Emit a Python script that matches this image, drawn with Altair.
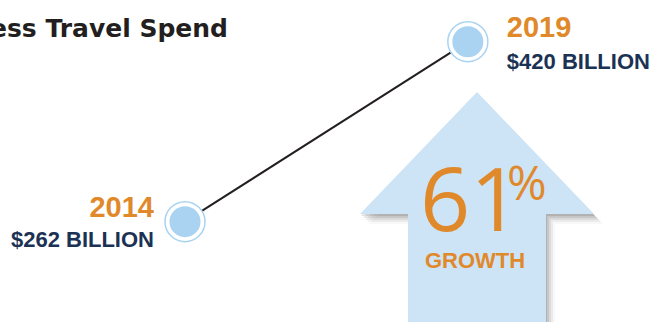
import altair as alt
import pandas as pd

# ---- data ----
years = [2014, 2019]
spend = [262, 420]
year_labels = ["2014", "2019"]
value_labels = ["$262 BILLION", "$420 BILLION"]
title_text = ["Business Travel Spend"]
growth_pct = ["61"]
growth_word = ["GROWTH"]

ORANGE = "#e0892a"
NAVY = "#1b3254"
DARK = "#231f20"
BLUE = "#a9d3f1"
ARROW = "#cde3f6"

df = pd.DataFrame({"year": years, "spend": spend,
                   "ylab": year_labels, "vlab": value_labels})
one = pd.DataFrame({"t": title_text, "p": growth_pct, "w": growth_word})

W, H = 650, 322
xs = alt.Scale(domain=[2010.73, 2022.22], nice=False, zero=False)
ys = alt.Scale(domain=[173.9, 456.6], nice=False, zero=False)
X = alt.X("year:Q", scale=xs, axis=None)
Y = alt.Y("spend:Q", scale=ys, axis=None)

arrow_path = "M0,0 L117,122 L69,122 L69,260 L-69,260 L-69,122 L-117,122 Z"
TIPX, TIPY = 477, 92

base1 = alt.Chart(one)

shadows = []
for (ox, oy, op) in [(1, 2, 0.15), (3, 4, 0.12), (5, 6, 0.10), (7, 8, 0.07), (9, 10, 0.04)]:
    shadows.append(
        base1.mark_point(shape=arrow_path, filled=True, size=4, color="#444444",
                         opacity=op, strokeWidth=0)
        .encode(x=alt.value(TIPX + ox), y=alt.value(TIPY + oy))
    )

arrow = base1.mark_point(shape=arrow_path, filled=True, size=4, color=ARROW,
                         opacity=1, strokeWidth=0).encode(
    x=alt.value(TIPX), y=alt.value(TIPY))

pct = base1.mark_text(font="Open Sans", fontSize=88, color=ORANGE, align="left",
                      baseline="alphabetic").encode(
    x=alt.value(420), y=alt.value(231), text="p:N")
pct_sign = base1.mark_text(font="Open Sans", fontSize=48, color=ORANGE, align="left",
                           baseline="alphabetic").encode(
    x=alt.value(507), y=alt.value(200), text=alt.value("%"))
growth = base1.mark_text(font="Liberation Sans", fontWeight="bold", fontSize=22,
                         color=ORANGE, align="center", baseline="alphabetic").encode(
    x=alt.value(475), y=alt.value(268), text="w:N")

title = base1.mark_text(font="DejaVu Sans", fontWeight="bold", fontSize=25,
                        color=DARK, align="right", baseline="alphabetic").encode(
    x=alt.value(228), y=alt.value(37), text="t:N")

base = alt.Chart(df)
line = base.mark_line(color=DARK, strokeWidth=2).encode(x=X, y=Y)
outer = base.mark_point(shape="circle", filled=True, size=1600, fill="white",
                        stroke=BLUE, strokeWidth=1.5, opacity=1).encode(x=X, y=Y)
inner = base.mark_point(shape="circle", filled=True, size=961, color=BLUE,
                        strokeWidth=0, opacity=1).encode(x=X, y=Y)

left = base.transform_filter(alt.datum.year == 2014)
right = base.transform_filter(alt.datum.year == 2019)

l_year = left.mark_text(font="Liberation Sans", fontWeight="bold", fontSize=29,
                        color=ORANGE, align="right", baseline="alphabetic",
                        dx=-31, dy=-5).encode(x=X, y=Y, text="ylab:N")
l_val = left.mark_text(font="Liberation Sans", fontWeight="bold", fontSize=22,
                       color=NAVY, align="right", baseline="alphabetic",
                       dx=-31, dy=25).encode(x=X, y=Y, text="vlab:N")
r_year = right.mark_text(font="Liberation Sans", fontWeight="bold", fontSize=29,
                         color=ORANGE, align="left", baseline="alphabetic",
                         dx=39, dy=-5).encode(x=X, y=Y, text="ylab:N")
r_val = right.mark_text(font="Liberation Sans", fontWeight="bold", fontSize=22,
                        color=NAVY, align="left", baseline="alphabetic",
                        dx=39, dy=27).encode(x=X, y=Y, text="vlab:N")

chart = alt.layer(
    *shadows, arrow, pct, pct_sign, growth, title,
    line, outer, inner, l_year, l_val, r_year, r_val
).properties(
    width=W, height=H, padding=0,
    autosize=alt.AutoSizeParams(type="none"),
    background="white"
).configure_view(stroke=None)

chart.save("out.html", embed_options={"renderer": "svg", "actions": False})
